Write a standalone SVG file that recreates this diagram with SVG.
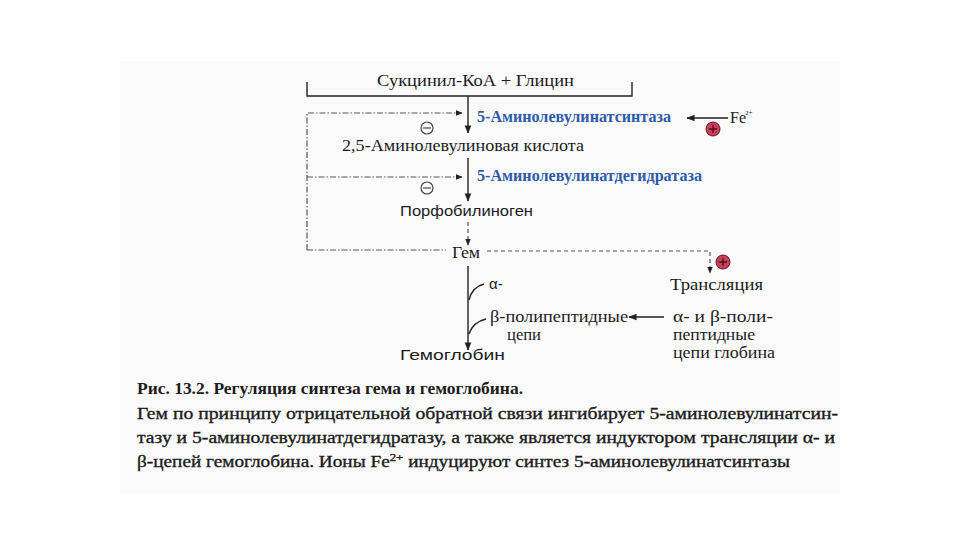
<svg xmlns="http://www.w3.org/2000/svg" width="960" height="540" viewBox="0 0 960 540">
<defs>
<style>
.t{font-family:"Liberation Serif","DejaVu Serif",serif;fill:#1c1c1c;font-size:16px}
.s{font-family:"Liberation Sans","DejaVu Sans",sans-serif;fill:#1c1c1c;font-size:15px}
.b{font-family:"Liberation Serif","DejaVu Serif",serif;fill:#2d5aa8;font-size:16px;font-weight:bold}
.cap{font-family:"Liberation Serif","DejaVu Serif",serif;fill:#1c1c1c;font-size:16px;font-weight:bold}
.capn{font-family:"Liberation Serif","DejaVu Serif",serif;fill:#1c1c1c;font-size:16.5px;stroke:#1c1c1c;stroke-width:0.35}
.ln{stroke:#222;stroke-width:1.4;fill:none}
.dd{stroke:#555;stroke-width:1.2;fill:none;stroke-dasharray:6 2 1.5 2}
.ds{stroke:#555;stroke-width:1.2;fill:none;stroke-dasharray:4 3}
.minus{fill:none;stroke:#444;stroke-width:1.2}
.plus{fill:#c2405a;stroke:#6a1020;stroke-width:1}
</style>
<marker id="ah" viewBox="0 0 10 10" refX="9" refY="5" markerWidth="6" markerHeight="6" orient="auto">
<path d="M0,1 L10,5 L0,9 Z" fill="#222"/>
</marker>
</defs>
<rect x="0" y="0" width="960" height="540" fill="#ffffff"/>
<rect x="120" y="61" width="720" height="432" fill="#fafafa"/>

<g id="connectors">
<path class="ln" d="M307,82 V96 H632 V82"/>
<line class="ln" x1="468" y1="96" x2="468" y2="133" marker-end="url(#ah)"/>
<line class="ln" x1="468" y1="158" x2="468" y2="201" marker-end="url(#ah)"/>
<line class="ds" x1="468" y1="222" x2="468" y2="245" marker-end="url(#ah)"/>
<line class="ln" x1="468" y1="266" x2="468" y2="350" marker-end="url(#ah)"/>
<path class="ln" d="M484,284 Q472,287 469,300"/>
<path class="ln" d="M486,319 Q473,322 469,334"/>
<path class="dd" d="M307,250 V113 H462" marker-end="url(#ah)"/>
<line class="dd" x1="307" y1="177" x2="462" y2="177" marker-end="url(#ah)"/>
<line class="dd" x1="307" y1="250" x2="446" y2="250"/>
<path class="ds" d="M487,251 H710 V273" marker-end="url(#ah)"/>
<line class="ln" x1="728" y1="118" x2="687" y2="118" marker-end="url(#ah)"/>
<line class="ln" x1="664" y1="317" x2="629" y2="317" marker-end="url(#ah)"/>
</g>

<g id="inhibit1"><circle class="minus" cx="427" cy="128" r="6"/><line class="minus" x1="423" y1="128" x2="431" y2="128"/></g>
<g id="inhibit2"><circle class="minus" cx="427" cy="188" r="6"/><line class="minus" x1="423" y1="188" x2="431" y2="188"/></g>
<g id="activate1"><circle class="plus" cx="713" cy="129" r="7"/><path d="M709,129 H717 M713,125 V133" stroke="#5a0a18" stroke-width="1.3"/></g>
<g id="activate2"><circle class="plus" cx="723" cy="262" r="7"/><path d="M719,262 H727 M723,258 V266" stroke="#5a0a18" stroke-width="1.3"/></g>

<g id="substrate"><text class="t" x="377" y="86" textLength="197" lengthAdjust="spacingAndGlyphs">Сукцинил-КоА + Глицин</text></g>
<g id="enzyme1"><text class="b" x="477" y="122" textLength="194" lengthAdjust="spacingAndGlyphs">5-Аминолевулинатсинтаза</text></g>
<g id="fe"><text class="t" x="730" y="123">Fe</text><text class="t" x="745" y="115" style="font-size:7px">2+</text></g>
<g id="ala"><text class="t" x="342" y="151" textLength="242" lengthAdjust="spacingAndGlyphs">2,5-Аминолевулиновая кислота</text></g>
<g id="enzyme2"><text class="b" x="477" y="181" textLength="225" lengthAdjust="spacingAndGlyphs">5-Аминолевулинатдегидратаза</text></g>
<g id="pbg"><text class="s" x="400" y="216" textLength="133" lengthAdjust="spacingAndGlyphs">Порфобилиноген</text></g>
<g id="heme"><text class="t" x="452" y="258" textLength="28" lengthAdjust="spacingAndGlyphs">Гем</text></g>
<g id="translation"><text class="t" x="670" y="290" textLength="93" lengthAdjust="spacingAndGlyphs">Трансляция</text></g>
<g id="alpha"><text class="s" x="489" y="289" style="font-size:15px">α-</text></g>
<g id="beta"><text class="t" x="490" y="322" textLength="138" lengthAdjust="spacingAndGlyphs">β-полипептидные</text><text class="t" x="507" y="340" textLength="34" lengthAdjust="spacingAndGlyphs">цепи</text></g>
<g id="globin"><text class="t" x="673" y="322" textLength="100" lengthAdjust="spacingAndGlyphs">α- и β-поли-</text><text class="t" x="673" y="340" textLength="82" lengthAdjust="spacingAndGlyphs">пептидные</text><text class="t" x="673" y="358" textLength="102" lengthAdjust="spacingAndGlyphs">цепи глобина</text></g>
<g id="hemoglobin"><text class="s" x="400" y="360" textLength="105" lengthAdjust="spacingAndGlyphs">Гемоглобин</text></g>

<g id="caption">
<text class="cap" x="137" y="394" textLength="386" lengthAdjust="spacingAndGlyphs">Рис. 13.2. Регуляция синтеза гема и гемоглобина.</text>
<text class="capn" x="137" y="419" textLength="701" lengthAdjust="spacingAndGlyphs">Гем по принципу отрицательной обратной связи ингибирует 5-аминолевулинатсин-</text>
<text class="capn" x="137" y="443" textLength="698" lengthAdjust="spacingAndGlyphs">тазу и 5-аминолевулинатдегидратазу, а также является индуктором трансляции α- и</text>
<text class="capn" x="137" y="467" textLength="653" lengthAdjust="spacingAndGlyphs">β-цепей гемоглобина. Ионы Fe<tspan dy="-6" style="font-size:11px">2+</tspan><tspan dy="6"> индуцируют синтез 5-аминолевулинатсинтазы</tspan></text>
</g>
</svg>
